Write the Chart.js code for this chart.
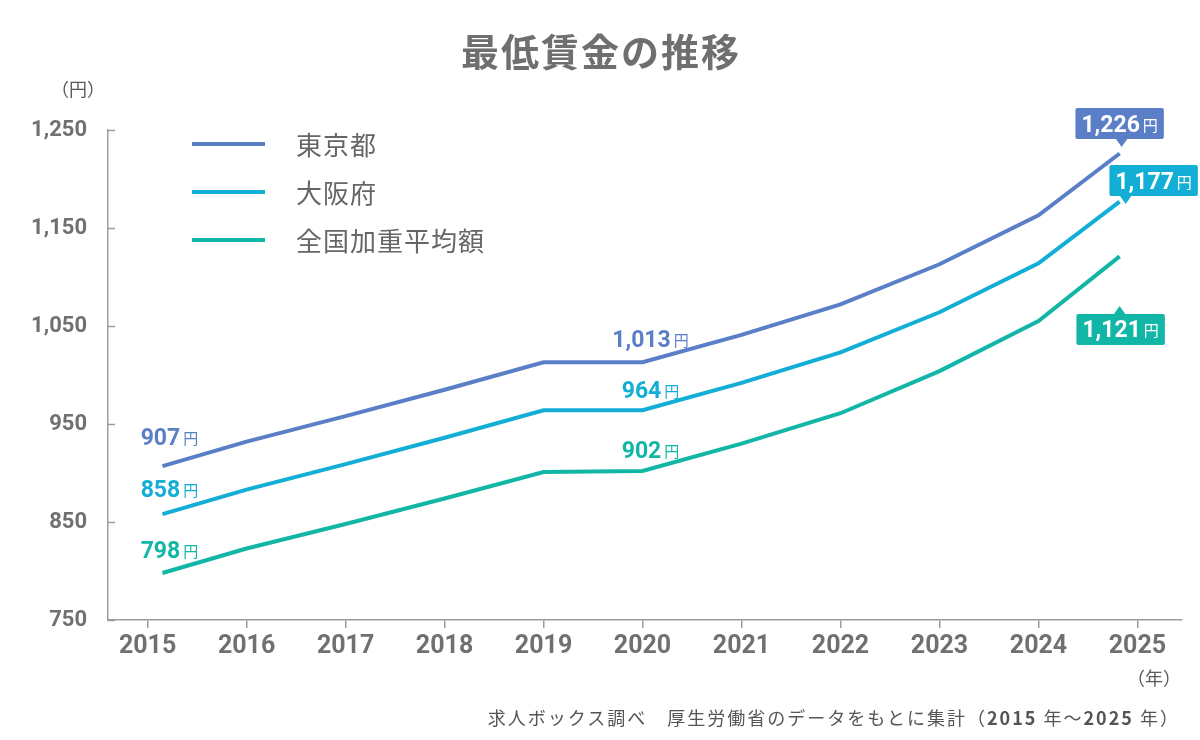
<!DOCTYPE html>
<html lang="ja">
<head>
<meta charset="utf-8">
<title>最低賃金の推移</title>
<script src="https://cdn.jsdelivr.net/npm/chart.js@4.4.1/dist/chart.umd.min.js"></script>
<style>
  html, body { margin: 0; padding: 0; background: #fff; }
  #wrap { position: relative; width: 1200px; height: 740px; font-family: "Noto Sans CJK JP", "Noto Sans", sans-serif; }
  #chart { position: absolute; left: 0; top: 0; }
  .txt { position: absolute; white-space: nowrap; color: #5a5a5a; }
  #title { left: 0; width: 1200px; top: 23px; text-align: center; font-size: 38px; font-weight: 700; color: #6f6f6f; line-height: 54px; letter-spacing: 2px; text-indent: 2px; }
  #unitY { left: 51px; top: 76px; font-size: 18px; line-height: 24px; }
  #unitX { left: 1127px; top: 665px; font-size: 18px; line-height: 24px; }
  #source { right: 20px; top: 704px; font-size: 18px; line-height: 26px; color: #555; letter-spacing: 2px; }
  #source b { font-weight: 700; }
</style>
</head>
<body>
<div id="wrap">
  <canvas id="chart" width="1200" height="740"></canvas>
  <div class="txt" id="title">最低賃金の推移</div>
  <div class="txt" id="unitY">（円）</div>
  <div class="txt" id="unitX">（年）</div>
  <div class="txt" id="source">求人ボックス調べ　厚生労働省のデータをもとに集計（<b>2015</b> 年～<b>2025</b> 年）</div>
</div>
<script>
// Data
const years = [2015, 2016, 2017, 2018, 2019, 2020, 2021, 2022, 2023, 2024, 2025];
const pointYears = [2015.15, 2016, 2017, 2018, 2019, 2020, 2021, 2022, 2023, 2024, 2024.82];
const tokyo = [907, 932, 958, 985, 1013, 1013, 1041, 1072, 1113, 1163, 1226];
const osaka = [858, 883, 909, 936, 964, 964, 992, 1023, 1064, 1114, 1177];
const national = [798, 823, 848, 874, 901, 902, 930, 961, 1004, 1055, 1121];
const seriesNames = ['東京都', '大阪府', '全国加重平均額'];
const yTicks = [750, 850, 950, 1050, 1150, 1250];

const COLORS = ['#5b7fc6', '#12aed5', '#12b6a6'];
const AXIS = '#9c9c9c';
const NUM_FONT = 'Roboto, "DejaVu Sans", sans-serif';
const JP_FONT = '"Noto Sans CJK JP", "Noto Sans", sans-serif';

// which points get a value label, and how they sit around the point
const LABELS = [
  [{ i: 0, dx: 7, dy: -21 }, { i: 5, dx: 8, dy: -15 }, { i: 10, box: true, dx: 0, dy: -30, ptr: 'down', ptrDx: 2 }],
  [{ i: 0, dx: 7, dy: -17 }, { i: 5, dx: 8, dy: -12 }, { i: 10, box: true, dx: 34, dy: -21, ptr: 'down', ptrDx: 6 }],
  [{ i: 0, dx: 7, dy: -15 }, { i: 5, dx: 8, dy: -13 }, { i: 10, box: true, dx: 1, dy: 73, ptr: 'up', ptrDx: 0 }]
];

function toPoints(vals) {
  return pointYears.map((x, i) => ({ x: x, y: vals[i] }));
}

function fmt(v) {
  return v.toLocaleString('en-US');
}

function valueParts(ctx, v) {
  ctx.font = 'bold 23px ' + NUM_FONT;
  const w1 = ctx.measureText(fmt(v)).width;
  ctx.font = '15px ' + JP_FONT;
  const w2 = ctx.measureText('円').width;
  return { w1: w1, w2: w2, gap: 3, total: w1 + 3 + w2 };
}

function drawValue(ctx, v, cx, base, color) {
  const p = valueParts(ctx, v);
  const x0 = cx - p.total / 2;
  ctx.fillStyle = color;
  ctx.textAlign = 'left';
  ctx.textBaseline = 'alphabetic';
  ctx.font = 'bold 23px ' + NUM_FONT;
  ctx.fillText(fmt(v), x0, base);
  ctx.font = '15px ' + JP_FONT;
  ctx.fillText('円', x0 + p.w1 + p.gap, base - 1);
}

const decorPlugin = {
  id: 'decor',
  afterDraw(chart) {
    const ctx = chart.ctx;
    const yS = chart.scales.y;
    ctx.save();

    // inward y ticks
    ctx.strokeStyle = AXIS;
    ctx.lineWidth = 1.5;
    yTicks.forEach(v => {
      const py = Math.round(yS.getPixelForValue(v)) + 0.5;
      ctx.beginPath();
      ctx.moveTo(yS.right, py);
      ctx.lineTo(yS.right + 7, py);
      ctx.stroke();
    });

    // legend
    chart.data.datasets.forEach((ds, d) => {
      const ly = 144 + d * 48;
      ctx.strokeStyle = ds.borderColor;
      ctx.lineWidth = 4;
      ctx.beginPath();
      ctx.moveTo(192, ly);
      ctx.lineTo(265, ly);
      ctx.stroke();
      ctx.fillStyle = '#666';
      ctx.font = '26px ' + JP_FONT;
      ctx.letterSpacing = '1px';
      ctx.textAlign = 'left';
      ctx.textBaseline = 'middle';
      ctx.fillText(ds.label, 296, ly + 1);
      ctx.letterSpacing = '0px';
    });

    // value labels
    chart.data.datasets.forEach((ds, d) => {
      const meta = chart.getDatasetMeta(d);
      LABELS[d].forEach(l => {
        const pt = meta.data[l.i];
        const v = ds.data[l.i].y;
        const color = ds.borderColor;
        if (!l.box) {
          drawValue(ctx, v, pt.x + l.dx, pt.y + l.dy, color);
          return;
        }
        const p = valueParts(ctx, v);
        const bw = p.total + 12, bh = 31;
        const cx = pt.x + l.dx, cy = pt.y + l.dy;
        const bx = cx - bw / 2, by = cy - bh / 2;
        ctx.fillStyle = color;
        ctx.beginPath();
        ctx.roundRect(bx, by, bw, bh, 2);
        ctx.fill();
        const px = pt.x + l.ptrDx;
        ctx.beginPath();
        if (l.ptr === 'down') {
          ctx.moveTo(px - 6, by + bh - 0.5);
          ctx.lineTo(px + 6, by + bh - 0.5);
          ctx.lineTo(px, by + bh + 8);
        } else {
          ctx.moveTo(px - 6, by + 0.5);
          ctx.lineTo(px + 6, by + 0.5);
          ctx.lineTo(px, by - 8);
        }
        ctx.closePath();
        ctx.fill();
        drawValue(ctx, v, cx, cy + 8, '#ffffff');
      });
    });
    ctx.restore();
  }
};

new Chart(document.getElementById('chart'), {
  type: 'line',
  data: {
    datasets: [tokyo, osaka, national].map((vals, d) => ({
      label: seriesNames[d],
      data: toPoints(vals),
      borderColor: COLORS[d],
      borderWidth: 4,
      pointRadius: 0,
      tension: 0,
      borderCapStyle: 'butt',
      borderJoinStyle: 'miter'
    }))
  },
  options: {
    responsive: false,
    animation: false,
    layout: { padding: { left: 0, top: 130, right: 18, bottom: 0 } },
    plugins: { legend: { display: false }, tooltip: { enabled: false } },
    scales: {
      x: {
        type: 'linear',
        min: 2014.6,
        max: 2025.45,
        afterBuildTicks: s => { s.ticks = years.map(y => ({ value: y })); },
        afterFit: s => { s.height = 120; },
        border: { display: true, color: AXIS, width: 1.5 },
        grid: { display: true, drawOnChartArea: false, drawTicks: true, tickLength: 8, color: AXIS, lineWidth: 1.5 },
        ticks: {
          padding: 4,
          color: '#707070',
          font: { family: NUM_FONT, size: 25, weight: 'bold' },
          callback: v => String(v)
        }
      },
      y: {
        min: 750,
        max: 1250,
        afterBuildTicks: s => { s.ticks = yTicks.map(v => ({ value: v })); },
        afterFit: s => { s.width = 108; },
        border: { display: true, color: AXIS, width: 1.5 },
        grid: { display: false },
        ticks: {
          padding: 13,
          color: '#707070',
          font: { family: NUM_FONT, size: 22, weight: 'bold' },
          callback: v => fmt(v)
        }
      }
    }
  },
  plugins: [decorPlugin]
});
</script>
</body>
</html>
